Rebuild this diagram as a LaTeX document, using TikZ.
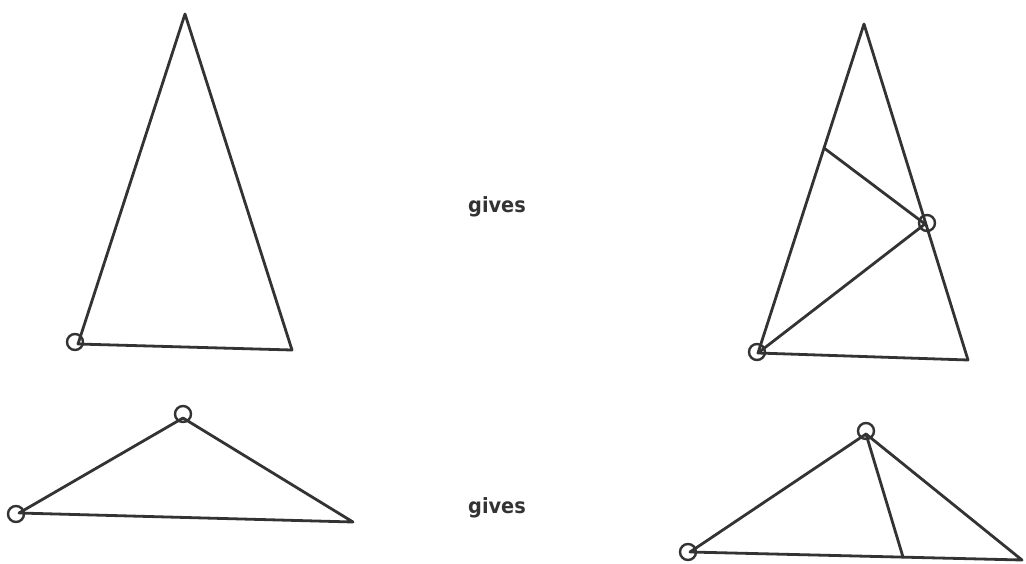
\documentclass[tikz,border=0pt]{standalone}
\usepackage{fontspec}
\setmainfont{DejaVu Sans}
\newfontfamily\lblfont{DejaVu Sans}[FakeStretch=0.92]
\begin{document}
\begin{tikzpicture}[x=1pt,y=-1pt,
  edge/.style={line width=2.8pt,draw=black!80,line join=round,line cap=round},
  mark0/.style={circle,draw=black!80,line width=2.4pt,minimum size=16pt,inner sep=0pt},
  lbl/.style={font=\lblfont\bfseries\fontsize{21}{24}\selectfont,text=black!80,anchor=base,inner sep=0pt}]
\useasboundingbox (0,0) rectangle (1026,563);
% top-left triangle
\coordinate (a1) at (185,14);
\coordinate (b1) at (78,344);
\coordinate (c1) at (292,350);
\draw[edge] (a1) -- (b1) -- (c1) -- cycle;
\node[mark0] (m1) at (75,342) {};
% top gives
\node[lbl] (g1) at (497,212) {gives};
% top-right triangle
\coordinate (a2) at (864,24);
\coordinate (b2) at (758,353);
\coordinate (c2) at (968,360);
\coordinate (p2) at (925,224);
\coordinate (q2) at (824,148);
\draw[edge] (a2) -- (b2) -- (c2) -- cycle;
\draw[edge] (b2) -- (p2) -- (q2);
\node[mark0] (m2) at (757,352) {};
\node[mark0] (m3) at (927,223) {};
% bottom-left triangle
\coordinate (a3) at (183,418);
\coordinate (b3) at (19,513);
\coordinate (c3) at (353,522);
\draw[edge] (a3) -- (b3) -- (c3) -- cycle;
\node[mark0] (m4) at (183,414) {};
\node[mark0] (m5) at (16,514) {};
% bottom gives
\node[lbl] (g2) at (497,513) {gives};
% bottom-right triangle
\coordinate (a4) at (866,434);
\coordinate (b4) at (690,552);
\coordinate (c4) at (1022,560);
\coordinate (d4) at (903,557);
\draw[edge] (a4) -- (b4) -- (c4) -- cycle;
\draw[edge] (a4) -- (d4);
\node[mark0] (m6) at (866,431) {};
\node[mark0] (m7) at (688,552) {};
\end{tikzpicture}
\end{document}
